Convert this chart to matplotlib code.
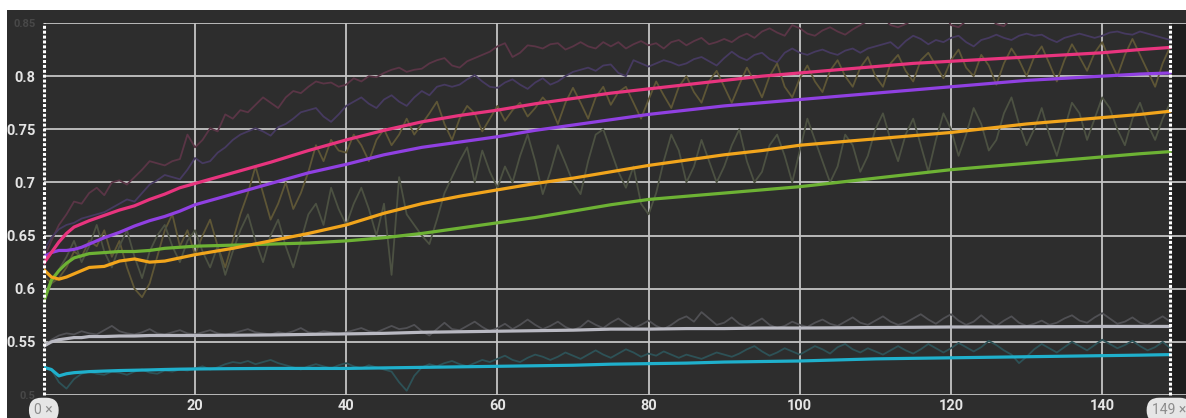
import matplotlib
matplotlib.use("Agg")
import matplotlib.pyplot as plt
from matplotlib.patches import Rectangle

# ---- data -------------------------------------------------------------
steps = list(range(150))

# smoothed curves are sampled at these steps
smooth_steps = [0, 1, 2, 3, 4, 5, 6, 8, 10, 12, 14, 16, 18, 20,
                25, 30, 35, 40, 45, 50, 55, 60, 65, 70, 75, 80, 85, 90, 95,
                100, 105, 110, 115, 120, 125, 130, 135, 140, 145, 149]

pink_smooth = [0.624, 0.634, 0.644, 0.652, 0.658, 0.661, 0.664, 0.669, 0.674, 0.678,
               0.684, 0.689, 0.695, 0.699, 0.709, 0.719, 0.730, 0.740, 0.749, 0.757,
               0.763, 0.768, 0.774, 0.779, 0.784, 0.788, 0.792, 0.796, 0.800, 0.803,
               0.806, 0.809, 0.812, 0.814, 0.816, 0.818, 0.820, 0.822, 0.825, 0.827]
purple_smooth = [0.630, 0.634, 0.636, 0.636, 0.637, 0.639, 0.642, 0.648, 0.653, 0.659,
                 0.664, 0.668, 0.673, 0.679, 0.689, 0.699, 0.709, 0.717, 0.726, 0.733,
                 0.738, 0.743, 0.749, 0.754, 0.759, 0.764, 0.768, 0.772, 0.775, 0.778,
                 0.781, 0.784, 0.787, 0.790, 0.793, 0.796, 0.798, 0.800, 0.802, 0.803]
orange_smooth = [0.618, 0.611, 0.609, 0.611, 0.614, 0.617, 0.620, 0.621, 0.626, 0.628,
                 0.625, 0.626, 0.629, 0.632, 0.638, 0.645, 0.652, 0.660, 0.671, 0.680,
                 0.687, 0.693, 0.699, 0.704, 0.710, 0.716, 0.721, 0.726, 0.730, 0.735,
                 0.738, 0.741, 0.744, 0.747, 0.751, 0.755, 0.758, 0.761, 0.764, 0.767]
green_smooth = [0.588, 0.608, 0.617, 0.624, 0.629, 0.631, 0.633, 0.634, 0.635, 0.635,
                0.636, 0.638, 0.639, 0.640, 0.641, 0.642, 0.643, 0.645, 0.648, 0.652,
                0.657, 0.662, 0.667, 0.673, 0.679, 0.684, 0.687, 0.690, 0.693, 0.696,
                0.700, 0.704, 0.708, 0.712, 0.715, 0.718, 0.721, 0.724, 0.727, 0.729]
gray_smooth = [0.546, 0.550, 0.552, 0.553, 0.554, 0.554, 0.555, 0.555, 0.5555, 0.5555,
               0.556, 0.556, 0.556, 0.556, 0.5562, 0.5565, 0.557, 0.5575, 0.558, 0.559,
               0.5595, 0.560, 0.5605, 0.561, 0.562, 0.562, 0.5625, 0.5625, 0.563, 0.563,
               0.5632, 0.5635, 0.5637, 0.564, 0.564, 0.5642, 0.5643, 0.5645, 0.5645, 0.5645]
cyan_smooth = [0.526, 0.524, 0.518, 0.520, 0.521, 0.5215, 0.522, 0.5225, 0.523, 0.5233,
               0.5236, 0.524, 0.5243, 0.5245, 0.5248, 0.525, 0.525, 0.525, 0.5255, 0.526,
               0.5265, 0.527, 0.5275, 0.528, 0.529, 0.5295, 0.530, 0.531, 0.5315, 0.532,
               0.533, 0.534, 0.5345, 0.535, 0.5355, 0.536, 0.5365, 0.537, 0.5375, 0.538]

pink_raw = [0.628, 0.645, 0.660, 0.670, 0.682, 0.680, 0.690, 0.695, 0.688, 0.700,
            0.702, 0.698, 0.705, 0.712, 0.720, 0.718, 0.716, 0.720, 0.722, 0.745,
            0.733, 0.740, 0.751, 0.748, 0.764, 0.760, 0.768, 0.766, 0.773, 0.780,
            0.775, 0.770, 0.780, 0.786, 0.784, 0.790, 0.795, 0.793, 0.794, 0.790,
            0.792, 0.798, 0.795, 0.800, 0.799, 0.803, 0.806, 0.808, 0.804, 0.806,
            0.807, 0.812, 0.815, 0.817, 0.810, 0.808, 0.814, 0.817, 0.820, 0.823,
            0.828, 0.831, 0.818, 0.822, 0.829, 0.828, 0.826, 0.830, 0.831, 0.825,
            0.828, 0.832, 0.828, 0.826, 0.832, 0.828, 0.832, 0.826, 0.830, 0.833,
            0.829, 0.831, 0.826, 0.832, 0.834, 0.829, 0.833, 0.836, 0.830, 0.832,
            0.835, 0.832, 0.837, 0.840, 0.836, 0.842, 0.845, 0.841, 0.838, 0.848,
            0.845, 0.840, 0.838, 0.843, 0.846, 0.842, 0.839, 0.844, 0.848, 0.852,
            0.855, 0.856, 0.848, 0.846, 0.849, 0.853, 0.858, 0.852, 0.855, 0.860,
            0.848, 0.846, 0.852, 0.858, 0.862, 0.856, 0.849, 0.847, 0.855, 0.862,
            0.865, 0.860, 0.858, 0.862, 0.866, 0.860, 0.857, 0.862, 0.868, 0.864,
            0.860, 0.865, 0.870, 0.866, 0.862, 0.868, 0.872, 0.866, 0.870, 0.868]
purple_raw = [0.636, 0.648, 0.656, 0.660, 0.662, 0.666, 0.668, 0.670, 0.672, 0.676,
              0.680, 0.684, 0.682, 0.690, 0.698, 0.702, 0.707, 0.705, 0.703, 0.712,
              0.723, 0.718, 0.720, 0.728, 0.733, 0.740, 0.745, 0.748, 0.751, 0.748,
              0.744, 0.752, 0.755, 0.760, 0.766, 0.768, 0.770, 0.762, 0.757, 0.764,
              0.772, 0.776, 0.780, 0.774, 0.770, 0.778, 0.782, 0.776, 0.772, 0.780,
              0.786, 0.782, 0.790, 0.792, 0.790, 0.792, 0.797, 0.801, 0.795, 0.790,
              0.789, 0.794, 0.797, 0.792, 0.788, 0.794, 0.798, 0.792, 0.795, 0.800,
              0.804, 0.806, 0.808, 0.805, 0.810, 0.811, 0.803, 0.800, 0.815, 0.812,
              0.809, 0.812, 0.815, 0.813, 0.810, 0.812, 0.816, 0.818, 0.814, 0.810,
              0.817, 0.823, 0.818, 0.815, 0.820, 0.822, 0.816, 0.813, 0.822, 0.826,
              0.822, 0.820, 0.823, 0.825, 0.822, 0.820, 0.824, 0.826, 0.822, 0.826,
              0.828, 0.830, 0.832, 0.826, 0.833, 0.838, 0.835, 0.830, 0.834, 0.832,
              0.836, 0.838, 0.832, 0.828, 0.834, 0.836, 0.839, 0.836, 0.834, 0.838,
              0.840, 0.838, 0.839, 0.835, 0.832, 0.836, 0.838, 0.840, 0.838, 0.836,
              0.838, 0.841, 0.842, 0.840, 0.839, 0.842, 0.840, 0.838, 0.836, 0.834]
orange_raw = [0.612, 0.605, 0.610, 0.620, 0.635, 0.630, 0.645, 0.640, 0.655, 0.630,
              0.645, 0.620, 0.600, 0.592, 0.605, 0.630, 0.655, 0.670, 0.640, 0.655,
              0.632, 0.650, 0.665, 0.640, 0.620, 0.645, 0.670, 0.690, 0.715, 0.690,
              0.665, 0.680, 0.700, 0.675, 0.690, 0.710, 0.735, 0.720, 0.740, 0.730,
              0.728, 0.745, 0.735, 0.720, 0.740, 0.750, 0.735, 0.745, 0.760, 0.745,
              0.755, 0.765, 0.776, 0.755, 0.740, 0.760, 0.772, 0.765, 0.748, 0.760,
              0.772, 0.758, 0.768, 0.775, 0.762, 0.770, 0.780, 0.772, 0.755, 0.775,
              0.789, 0.775, 0.760, 0.780, 0.790, 0.773, 0.785, 0.790, 0.775, 0.760,
              0.778, 0.795, 0.782, 0.770, 0.790, 0.800, 0.785, 0.775, 0.795, 0.805,
              0.790, 0.775, 0.792, 0.808, 0.795, 0.780, 0.800, 0.812, 0.790, 0.780,
              0.798, 0.810, 0.795, 0.785, 0.805, 0.815, 0.800, 0.790, 0.808, 0.818,
              0.800, 0.790, 0.812, 0.820, 0.805, 0.795, 0.815, 0.822, 0.810, 0.798,
              0.815, 0.825, 0.808, 0.800, 0.820, 0.810, 0.792, 0.812, 0.826, 0.815,
              0.800, 0.818, 0.828, 0.812, 0.795, 0.815, 0.830, 0.818, 0.805, 0.822,
              0.832, 0.815, 0.800, 0.820, 0.835, 0.820, 0.805, 0.790, 0.812, 0.828]
green_raw = [0.590, 0.605, 0.618, 0.630, 0.645, 0.625, 0.640, 0.660, 0.635, 0.620,
             0.640, 0.655, 0.630, 0.610, 0.635, 0.650, 0.660, 0.640, 0.625, 0.645,
             0.655, 0.635, 0.620, 0.640, 0.613, 0.635, 0.655, 0.670, 0.645, 0.625,
             0.650, 0.665, 0.640, 0.620, 0.645, 0.670, 0.680, 0.660, 0.695, 0.675,
             0.660, 0.680, 0.695, 0.675, 0.650, 0.680, 0.613, 0.705, 0.670, 0.660,
             0.650, 0.642, 0.665, 0.690, 0.705, 0.720, 0.733, 0.700, 0.730, 0.710,
             0.695, 0.715, 0.700, 0.725, 0.745, 0.720, 0.689, 0.710, 0.735, 0.718,
             0.700, 0.689, 0.720, 0.745, 0.750, 0.730, 0.710, 0.695, 0.715, 0.680,
             0.670, 0.690, 0.720, 0.745, 0.730, 0.700, 0.715, 0.740, 0.720, 0.700,
             0.715, 0.735, 0.750, 0.720, 0.700, 0.710, 0.735, 0.745, 0.725, 0.700,
             0.730, 0.760, 0.740, 0.720, 0.700, 0.715, 0.745, 0.735, 0.710, 0.725,
             0.750, 0.765, 0.740, 0.720, 0.745, 0.760, 0.735, 0.710, 0.740, 0.765,
             0.750, 0.725, 0.745, 0.770, 0.755, 0.730, 0.740, 0.765, 0.780, 0.755,
             0.735, 0.750, 0.770, 0.745, 0.725, 0.750, 0.775, 0.765, 0.740, 0.760,
             0.780, 0.770, 0.750, 0.735, 0.760, 0.775, 0.755, 0.740, 0.760, 0.775]
gray_raw = [0.545, 0.552, 0.556, 0.558, 0.557, 0.560, 0.558, 0.557, 0.561, 0.565,
            0.560, 0.558, 0.557, 0.559, 0.562, 0.558, 0.557, 0.559, 0.561, 0.558,
            0.557, 0.559, 0.561, 0.558, 0.557, 0.558, 0.560, 0.562, 0.559, 0.558,
            0.557, 0.559, 0.558, 0.560, 0.563, 0.559, 0.558, 0.560, 0.559, 0.557,
            0.559, 0.561, 0.563, 0.560, 0.559, 0.562, 0.565, 0.562, 0.563, 0.566,
            0.560, 0.556, 0.562, 0.568, 0.562, 0.561, 0.565, 0.569, 0.564, 0.560,
            0.563, 0.567, 0.562, 0.566, 0.571, 0.566, 0.562, 0.565, 0.569, 0.564,
            0.561, 0.564, 0.570, 0.566, 0.563, 0.568, 0.572, 0.567, 0.563, 0.566,
            0.570, 0.565, 0.562, 0.566, 0.571, 0.574, 0.569, 0.578, 0.572, 0.566,
            0.568, 0.573, 0.567, 0.564, 0.568, 0.572, 0.566, 0.563, 0.565, 0.569,
            0.566, 0.564, 0.568, 0.571, 0.567, 0.565, 0.569, 0.573, 0.568, 0.566,
            0.570, 0.574, 0.569, 0.566, 0.568, 0.572, 0.576, 0.571, 0.567, 0.572,
            0.576, 0.570, 0.566, 0.569, 0.575, 0.569, 0.565, 0.570, 0.574, 0.568,
            0.565, 0.567, 0.570, 0.566, 0.568, 0.572, 0.575, 0.570, 0.568, 0.573,
            0.577, 0.572, 0.567, 0.569, 0.573, 0.568, 0.566, 0.570, 0.574, 0.569]
cyan_raw = [0.527, 0.524, 0.512, 0.506, 0.515, 0.520, 0.522, 0.520, 0.519, 0.522,
            0.521, 0.519, 0.522, 0.524, 0.521, 0.520, 0.523, 0.522, 0.524, 0.523,
            0.525, 0.527, 0.524, 0.526, 0.529, 0.531, 0.530, 0.532, 0.529, 0.531,
            0.533, 0.530, 0.528, 0.526, 0.524, 0.527, 0.529, 0.527, 0.525, 0.528,
            0.530, 0.527, 0.525, 0.528, 0.526, 0.524, 0.522, 0.512, 0.504, 0.518,
            0.526, 0.529, 0.527, 0.530, 0.532, 0.529, 0.527, 0.530, 0.533, 0.531,
            0.534, 0.537, 0.533, 0.531, 0.535, 0.538, 0.536, 0.533, 0.536, 0.540,
            0.537, 0.534, 0.538, 0.542, 0.538, 0.535, 0.539, 0.543, 0.540, 0.536,
            0.539, 0.537, 0.541, 0.538, 0.535, 0.538, 0.536, 0.534, 0.537, 0.540,
            0.538, 0.536, 0.539, 0.543, 0.546, 0.541, 0.537, 0.540, 0.544, 0.541,
            0.538, 0.542, 0.546, 0.543, 0.539, 0.545, 0.548, 0.543, 0.540, 0.544,
            0.541, 0.538, 0.542, 0.546, 0.542, 0.539, 0.543, 0.548, 0.544, 0.540,
            0.544, 0.549, 0.545, 0.541, 0.545, 0.551, 0.547, 0.542, 0.538, 0.530,
            0.536, 0.543, 0.548, 0.544, 0.540, 0.545, 0.550, 0.546, 0.542, 0.547,
            0.552, 0.548, 0.544, 0.547, 0.551, 0.546, 0.542, 0.545, 0.550, 0.544]

y_ticks = [0.5, 0.55, 0.6, 0.65, 0.7, 0.75, 0.8, 0.85]
y_labels = ["0.5", "0.55", "0.6", "0.65", "0.7", "0.75", "0.8", "0.85"]
x_ticks = [20, 40, 60, 80, 100, 120, 140]
x_labels = ["20", "40", "60", "80", "100", "120", "140"]
x_first, x_last = 0, 149

# ---- figure -------------------------------------------------------------
W, H = 1186, 418
plt.rcParams["font.family"] = ["Roboto", "DejaVu Sans"]
fig = plt.figure(figsize=(W / 100, H / 100), dpi=100, facecolor="white")

# dark panel behind the chart
fig.patches.append(Rectangle((7 / W, 0), 1 - 7 / W, 1 - 10 / H,
                             transform=fig.transFigure, facecolor="#2d2d2d",
                             edgecolor="none", zorder=-5))

px_per_step = 7.56
left_px = 43.8
x_max = (W - left_px) / px_per_step
ax = fig.add_axes([left_px / W, 1 - 395 / H, (W - left_px) / W, 372 / H])
ax.set_facecolor("#2d2d2d")
ax.set_xlim(0, x_max)
ax.set_ylim(0.5, 0.85)
for s in ax.spines.values():
    s.set_visible(False)

# darker strip past the last step
ax.axvspan(x_last + 0.25, x_max, color="#1e1e1e", zorder=0.5, lw=0)

# grid
for yv in y_ticks:
    ax.axhline(yv, color="#c4c4c4", lw=1.3, zorder=1)
for xv in x_ticks:
    ax.axvline(xv, color="#c4c4c4", lw=1.3, zorder=1)

# raw (unsmoothed) traces
raw_series = [
    (pink_raw, "#5a3546"),
    (purple_raw, "#463a60"),
    (orange_raw, "#5e5636"),
    (green_raw, "#4c5142"),
    (gray_raw, "#505054"),
    (cyan_raw, "#2d5257"),
]
for vals, col in raw_series:
    ax.plot(steps, vals, color=col, lw=1.3, zorder=2, solid_joinstyle="round")

# smoothed traces
smooth_series = [
    (gray_smooth, "#b9b9c2"),
    (cyan_smooth, "#1fb0cc"),
    (green_smooth, "#6db234"),
    (orange_smooth, "#f2a51c"),
    (purple_smooth, "#9040e2"),
    (pink_smooth, "#e8347e"),
]
for vals, col in smooth_series:
    ax.plot(smooth_steps, vals, color=col, lw=2.3, zorder=3,
            solid_joinstyle="round", solid_capstyle="round")

# range markers
for xv in (x_first, x_last):
    ax.axvline(xv, color="white", lw=2.2, ls=(0, (1.0, 0.6)), zorder=4,
               clip_on=False)

# ticks
ax.set_yticks(y_ticks)
ax.set_yticklabels(y_labels)
ax.set_xticks(x_ticks)
ax.set_xticklabels(x_labels)
ax.tick_params(axis="both", length=0, labelsize=10.5, labelcolor="#e4e4e4")
ax.tick_params(axis="y", pad=6)
ax.tick_params(axis="x", pad=3)
for lab in ax.get_yticklabels() + ax.get_xticklabels():
    lab.set_fontweight("bold")
yl = ax.get_yticklabels()
yl[0].set_color("#484848")
yl[-1].set_color("#484848")
yl[0].set_fontsize(8)
yl[-1].set_fontsize(8)

# step-range badges
for xv, txt, ha, dx in ((x_first, "0 ×", "center", 0), (x_last, "149 ×", "left", -13)):
    ax.annotate(txt, xy=(xv, 0.5), xycoords="data", xytext=(dx, -11),
                textcoords="offset points", ha=ha,
                va="center", fontsize=10, color="#8c8c8c",
                annotation_clip=False,
                bbox=dict(boxstyle="round,pad=0.4,rounding_size=0.9",
                          fc="#e6e6e6", ec="none"))

fig.savefig("out.png", dpi=100, facecolor="white")
